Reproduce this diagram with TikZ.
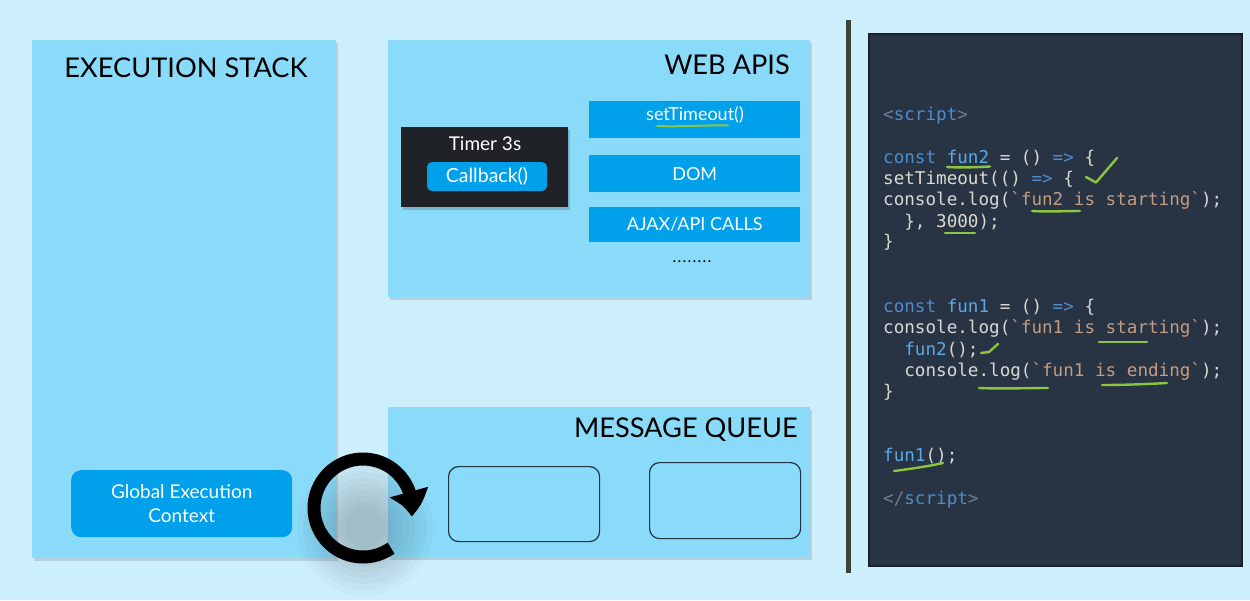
\documentclass[tikz,border=0pt]{standalone}
\usepackage{fontspec}
\setmainfont{Lato}
\newfontfamily\codefont{DejaVu Sans Mono}
\usetikzlibrary{arrows.meta,shadows,bending}
\definecolor{bgc}{HTML}{CDEFFC}
\definecolor{panelc}{HTML}{8ADBF9}
\definecolor{bluebox}{HTML}{00A0EA}
\definecolor{timerc}{HTML}{1F2226}
\definecolor{codebg}{HTML}{283344}
\definecolor{codeborder}{HTML}{17202B}
\definecolor{sepc}{HTML}{3B4436}
\definecolor{kwc}{HTML}{4F8CCB}
\definecolor{fnc}{HTML}{5AAAE8}
\definecolor{plc}{HTML}{D6D8D4}
\definecolor{crc}{HTML}{DCDACB}
\definecolor{strc}{HTML}{C49C82}
\definecolor{tagc}{HTML}{6E7E8F}
\definecolor{grnc}{HTML}{8CC63F}
\definecolor{qborder}{HTML}{1F3345}
\newcommand\kwd[1]{\textcolor{kwc}{#1}}
\newcommand\fnm[1]{\textcolor{fnc}{#1}}
\newcommand\creamc[1]{\textcolor{crc}{#1}}
\newcommand\strg[1]{\textcolor{strc}{#1}}
\newcommand\tagg[1]{\textcolor{tagc}{#1}}
\newcommand\bq{\char"60}
\begin{document}
\begin{tikzpicture}[x=1pt,y=1pt,
  panel/.style={fill=panelc, draw=none, drop shadow={shadow xshift=2pt, shadow yshift=-3pt, opacity=0.18, fill=black!70}},
  title/.style={font=\fontsize{27.2}{31}\selectfont, text=black, inner sep=0pt},
  bbox/.style={fill=bluebox, text=white, font=\fontsize{18}{21}\selectfont, inner sep=0pt, align=center},
  btext/.style={text=white, font=\fontsize{18}{21}\selectfont, inner sep=0pt},
  qbox/.style={draw=qborder, line width=1.2pt, rounded corners=10pt, inner sep=0pt},
  codeline/.style={anchor=base west, inner sep=0pt, font=\codefont\fontsize{17.6}{21}\selectfont, text=plc},
  grn/.style={draw=grnc, line width=2.4pt, line cap=round, line join=round}
]
\useasboundingbox (0,0) rectangle (1250,-600);
\fill[bgc] (0,0) rectangle (1250,-600);

% ---------- Execution stack ----------
\node[panel, minimum width=304, minimum height=518, anchor=north west, inner sep=0pt] (es) at (32,-40) {};
\node[title] (estitle) at (186,-68) {EXECUTION STACK};
\node[bbox, rounded corners=10pt, minimum width=221, minimum height=67, anchor=north west, font=\fontsize{19}{23.5}\selectfont] (gec) at (71,-470) {Global Execution\\Context};

% ---------- Web APIs ----------
\node[panel, minimum width=422, minimum height=257, anchor=north west, inner sep=0pt] (web) at (388,-40) {};
\node[title, anchor=east] (webtitle) at (790,-65) {WEB APIS};
\node[fill=timerc, minimum width=167, minimum height=80, anchor=north west, inner sep=0pt,
      drop shadow={shadow xshift=2pt, shadow yshift=-3pt, opacity=0.25, fill=black!70}] (timer) at (401,-127) {};
\node[btext, font=\fontsize{19}{22}\selectfont] (timertxt) at (485,-144) {Timer 3s};
\node[bbox, rounded corners=5pt, minimum width=120, minimum height=29, font=\fontsize{19.5}{22}\selectfont] (cb) at (487,-176.5) {Callback()};
\node[bbox, minimum width=211, minimum height=37, anchor=north west] (st) at (589,-101) {};
\node[btext] (sttxt) at (695,-115) {setTimeout()};
\node[bbox, minimum width=211, minimum height=37, anchor=north west] (dom) at (589,-155) {DOM};
\node[bbox, minimum width=211, minimum height=35, anchor=north west] (ajax) at (589,-207) {AJAX/API CALLS};
\node[inner sep=0pt, font=\fontsize{16}{19}\selectfont] (dots) at (692,-262) {.\hspace{1.2pt}.\hspace{1.2pt}.\hspace{1.2pt}.\hspace{1.2pt}.\hspace{1.2pt}.\hspace{1.2pt}.\hspace{1.2pt}.};
\draw[grn, line width=2pt] (657,-126) .. controls (680,-127) and (700,-125) .. (728,-125.5);

% ---------- Message queue ----------
\node[panel, minimum width=422, minimum height=150, anchor=north west, inner sep=0pt] (mq) at (388,-407) {};
\node[title, anchor=east] (mqtitle) at (798,-430) {MESSAGE QUEUE};
\node[qbox, minimum width=151, minimum height=75, anchor=north west] (q1) at (448,-466) {};
\node[qbox, minimum width=151, minimum height=76, anchor=north west] (q2) at (649,-462) {};

% ---------- event loop arrow ----------
\foreach \r in {68,62,...,20} {
  \fill[black, opacity=0.025] (365,-528) circle (\r);
}
\draw[line width=13pt, -{Triangle[length=25pt, width=38pt, bend]}]
  (363,-508) ++(-55:49) coordinate (loopstart) arc[start angle=-55, end angle=-370, radius=49] coordinate (loopend);

% ---------- separator ----------
\fill[sepc] (846,-20) rectangle (851,-573);

% ---------- code panel ----------
\node[fill=codebg, draw=codeborder, line width=1.5pt, minimum width=373, minimum height=532, anchor=north west, inner sep=0pt] (code) at (868,-33) {};

\node[codeline] (l0) at (883,-120) {\tagg{<}\kwd{script}\tagg{>}};
\node[codeline] (l2) at (883,-163) {\kwd{const} \fnm{fun2} = () \kwd{=>} \{};
\node[codeline] (l3) at (883,-184) {\creamc{setTimeout}(() \kwd{=>} \{};
\node[codeline] (l4) at (883,-205) {console.log(\strg{\bq fun2 is starting\bq});};
\node[codeline] (l5) at (883,-227) {\phantom{xx}\}, \creamc{3000});};
\node[codeline] (l6) at (883,-247) {\}};
\node[codeline] (l9) at (883,-312) {\kwd{const} \fnm{fun1} = () \kwd{=>} \{};
\node[codeline] (l10) at (883,-333) {console.log(\strg{\bq fun1 is starting\bq});};
\node[codeline] (l11) at (883,-355) {\phantom{xx}\fnm{fun2}();};
\node[codeline] (l12) at (883,-376) {\phantom{xx}console.log(\strg{\bq fun1 is ending\bq});};
\node[codeline] (l13) at (883,-397) {\}};
\node[codeline] (l16) at (883,-461) {\fnm{fun1}();};
\node[codeline] (l18) at (883,-504) {\tagg{</}\kwd{script}\tagg{>}};

% green annotations
\draw[grn] (947,-167) .. controls (965,-168) and (978,-167) .. (990,-166.5);
\draw[grn] (1086,-177) -- (1096,-182.5) -- (1117,-158);
\draw[grn] (1032,-211) .. controls (1050,-212) and (1065,-211) .. (1080,-211);
\draw[grn] (945,-233) -- (975,-233);
\draw[grn] (1099,-342) -- (1147,-342);
\draw[grn] (981,-353) -- (989,-352) -- (998,-344);
\draw[grn] (979,-388) .. controls (1000,-389) and (1025,-388) .. (1048,-388);
\draw[grn] (1102,-385) .. controls (1125,-385) and (1150,-384) .. (1167,-383);
\draw[grn] (894,-471) .. controls (910,-469) and (930,-466) .. (943,-463);
\end{tikzpicture}
\end{document}
